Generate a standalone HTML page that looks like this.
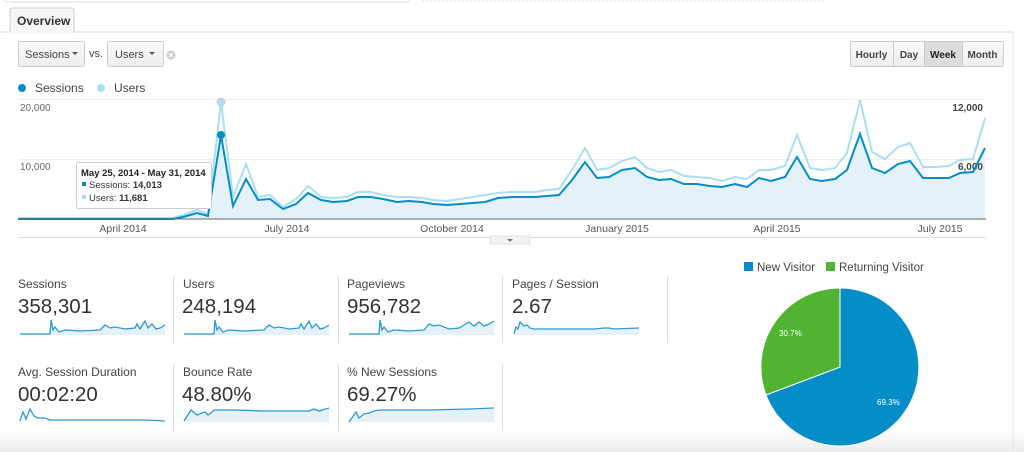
<!DOCTYPE html>
<html><head><meta charset="utf-8"><style>
body{margin:0;background:#fff;width:1024px;height:452px;overflow:hidden;font-family:"Liberation Sans",Arial,sans-serif;}
svg{display:block}
text{font-family:"Liberation Sans",Arial,sans-serif}
</style></head><body>
<svg width="1024" height="452" viewBox="0 0 1024 452">
<defs>
<linearGradient id="btm" x1="0" y1="0" x2="0" y2="1"><stop offset="0" stop-color="#fff"/><stop offset="1" stop-color="#ececec"/></linearGradient>
<linearGradient id="btn" x1="0" y1="0" x2="0" y2="1"><stop offset="0" stop-color="#fafafa"/><stop offset="1" stop-color="#eeeeee"/></linearGradient>
</defs>
<rect x="0" y="430" width="1024" height="22" fill="url(#btm)"/>
<rect x="4" y="-6" width="405" height="8" rx="3" fill="#fff" stroke="#ddd"/>
<line x1="422" y1="1" x2="825" y2="1" stroke="#ddd" stroke-dasharray="2,2"/>
<line x1="0" y1="32" x2="1013" y2="32" stroke="#d6d6d6"/>
<line x1="1013" y1="32" x2="1013" y2="452" stroke="#e4e4e4"/>
<path d="M10,32 V10 Q10,8 12,8 H72 Q74,8 74,10 V32" fill="#f5f5f5" stroke="#d0d0d0"/>
<rect x="11" y="30" width="62" height="4" fill="#f5f5f5"/>
<text x="17" y="25" font-size="12" font-weight="bold" fill="#333">Overview</text>
<rect x="18.5" y="41.5" width="66" height="25" rx="2" fill="url(#btn)" stroke="#ccc"/>
<text x="25" y="58" font-size="11" fill="#444">Sessions</text>
<path d="M72,52 h6 l-3,3z" fill="#555"/>
<text x="89" y="57" font-size="11" fill="#444">vs.</text>
<rect x="107.5" y="41.5" width="56" height="25" rx="2" fill="url(#btn)" stroke="#ccc"/>
<text x="115" y="58" font-size="11" fill="#444">Users</text>
<path d="M149,52 h6 l-3,3z" fill="#555"/>
<circle cx="171" cy="55" r="4.5" fill="#ccc"/>
<path d="M169,53 l4,4 M173,53 l-4,4" stroke="#fff" stroke-width="1.2"/>
<rect x="850.5" y="41.5" width="153" height="25" rx="2" fill="url(#btn)" stroke="#ccc"/>
<rect x="924" y="42" width="38" height="24" fill="#dcdcdc"/>
<line x1="893.5" y1="42" x2="893.5" y2="66" stroke="#ccc"/>
<line x1="924.5" y1="42" x2="924.5" y2="66" stroke="#ccc"/>
<line x1="962.5" y1="42" x2="962.5" y2="66" stroke="#ccc"/>
<text x="871.5" y="58" font-size="10" font-weight="bold" fill="#444" text-anchor="middle">Hourly</text>
<text x="909" y="58" font-size="10" font-weight="bold" fill="#444" text-anchor="middle">Day</text>
<text x="943" y="58" font-size="10" font-weight="bold" fill="#222" text-anchor="middle">Week</text>
<text x="982.5" y="58" font-size="10" font-weight="bold" fill="#444" text-anchor="middle">Month</text>
<circle cx="22" cy="88" r="4" fill="#058dc7"/>
<text x="35" y="92" font-size="12" fill="#444">Sessions</text>
<circle cx="101" cy="88" r="4" fill="#aadff3"/>
<text x="114" y="92" font-size="12" fill="#444">Users</text>
<line x1="18" y1="99.5" x2="986" y2="99.5" stroke="#eee"/>
<line x1="18" y1="159.5" x2="986" y2="159.5" stroke="#eee"/>
<text x="20" y="111" font-size="10" fill="#666">20,000</text>
<text x="20" y="170" font-size="10" fill="#666">10,000</text>
<text x="983" y="111" font-size="10" font-weight="bold" fill="#444" text-anchor="end">12,000</text>
<path d="M18,219 L173,219 183,217 197,213 208,216 221,135 233,206 246,179 258,200 270,199 283,209 296,204 308,193 321,200 333,202 347,201 358,197 371,197 383,199 397,202 409,201 422,202 433,204 447,205 460,204 473,203 485,202 498,198 512,197 535,197 547,196 559,195 572,180 585,162 597,178 609,177 622,170 635,168 647,177 659,180 671,179 684,184 697,184 710,186 722,187 735,184 747,187 759,178 771,181 785,177 797,157 810,179 822,181 835,179 847,170 860,134 872,168 885,173 898,164 910,161 923,178 935,178 949,178 960,173 973,172 985,148 L985,219 Z" fill="#e5f1f9"/>
<polyline fill="none" stroke="#aadff3" stroke-width="2" points="18,218 130,218 173,218 183,215 197,210 208,214 221,102 233,197 246,164 258,197 270,195 283,207 296,199 308,186 321,197 333,198 347,197 358,192 371,192 383,195 397,197 409,197 422,198 433,200 447,201 460,199 473,197 485,195 498,193 512,192 535,192 547,190 559,189 572,170 585,148 597,170 609,168 622,161 635,157 647,168 659,172 671,170 684,176 697,177 710,178 722,181 735,177 747,179 759,170 771,170 785,166 797,135 810,168 822,170 835,168 847,153 860,100 872,152 885,159 898,147 910,143 923,167 935,167 949,166 960,160 973,159 985,118"/>
<text x="983" y="170" font-size="10" font-weight="bold" fill="#444" text-anchor="end">6,000</text>
<polyline fill="none" stroke="#058dc7" stroke-width="2" points="18,219 173,219 183,217 197,213 208,216 221,135 233,206 246,179 258,200 270,199 283,209 296,204 308,193 321,200 333,202 347,201 358,197 371,197 383,199 397,202 409,201 422,202 433,204 447,205 460,204 473,203 485,202 498,198 512,197 535,197 547,196 559,195 572,180 585,162 597,178 609,177 622,170 635,168 647,177 659,180 671,179 684,184 697,184 710,186 722,187 735,184 747,187 759,178 771,181 785,177 797,157 810,179 822,181 835,179 847,170 860,134 872,168 885,173 898,164 910,161 923,178 935,178 949,178 960,173 973,172 985,148"/>
<line x1="18" y1="219" x2="986" y2="219" stroke="#666" stroke-width="1"/>
<circle cx="221" cy="102" r="4" fill="#aadff3" stroke="#ccc"/>
<circle cx="221" cy="135" r="4" fill="#058dc7"/>
<rect x="76.5" y="162.5" width="135" height="46" rx="2" fill="#fff" stroke="#ccc"/>
<text x="81" y="176" font-size="9.5" font-weight="bold" fill="#222">May 25, 2014 - May 31, 2014</text>
<rect x="82" y="182" width="4" height="4" fill="#058dc7"/>
<text x="89" y="188" font-size="9.5" fill="#333">Sessions: <tspan font-weight="bold">14,013</tspan></text>
<rect x="82" y="195" width="4" height="4" fill="#aadff3"/>
<text x="89" y="201" font-size="9.5" fill="#333">Users: <tspan font-weight="bold">11,681</tspan></text>
<g font-size="10.5" fill="#555" text-anchor="middle">
<text x="123" y="232">April 2014</text><text x="287" y="232">July 2014</text><text x="452" y="232">October 2014</text>
<text x="617" y="232">January 2015</text><text x="777" y="232">April 2015</text><text x="940" y="232">July 2015</text>
</g>
<line x1="18" y1="237.5" x2="986" y2="237.5" stroke="#ddd"/>
<rect x="490" y="236" width="40" height="8" fill="#f3f3f3" stroke="#ddd"/>
<path d="M507,239 h6 l-3,3z" fill="#777"/>
<g stroke="#ddd"><line x1="173.5" y1="276" x2="173.5" y2="343"/><line x1="338.5" y1="276" x2="338.5" y2="343"/><line x1="502.5" y1="276" x2="502.5" y2="343"/><line x1="667.5" y1="276" x2="667.5" y2="343"/>
<line x1="173.5" y1="364" x2="173.5" y2="431"/><line x1="338.5" y1="364" x2="338.5" y2="431"/><line x1="502.5" y1="364" x2="502.5" y2="431"/></g>
<g font-size="12" fill="#444">
<text x="18" y="288">Sessions</text><text x="183" y="288">Users</text><text x="347" y="288">Pageviews</text><text x="512" y="288">Pages / Session</text>
<text x="18" y="376">Avg. Session Duration</text><text x="183" y="376">Bounce Rate</text><text x="347" y="376">% New Sessions</text>
</g>
<g font-size="20.5" fill="#333">
<text x="18" y="313">358,301</text><text x="182" y="313">248,194</text><text x="347" y="313">956,782</text><text x="512" y="313">2.67</text>
<text x="18" y="401">00:02:20</text><text x="182" y="401">48.80%</text><text x="347" y="401">69.27%</text>
</g>
<g id="sp">
<path d="M20,334 L50,334 51,320 53,330 55,327 59,332 65,330 80,331 100,330 105,325 110,328 115,327 125,329 135,328 137,324 140,329 145,321 148,328 152,324 156,329 160,328 165,325 L165,335 20,335Z" fill="#e5f1f9"/>
<polyline fill="none" stroke="#2a9ad3" stroke-width="1.3" points="20,334 50,334 51,320 53,330 55,327 59,332 65,330 80,331 100,330 105,325 110,328 115,327 125,329 135,328 137,324 140,329 145,321 148,328 152,324 156,329 160,328 165,325"/>
</g>
<use href="#sp" x="164"/>
<g transform="translate(329,0)">
<path d="M20,334 L50,334 51,320 53,330 55,327 59,332 65,330 80,331 95,330 100,324 105,326 110,325 120,329 130,328 140,322 145,326 150,322 155,326 160,324 165,321 L165,335 20,335Z" fill="#e5f1f9"/>
<polyline fill="none" stroke="#2a9ad3" stroke-width="1.3" points="20,334 50,334 51,320 53,330 55,327 59,332 65,330 80,331 95,330 100,324 105,326 110,325 120,329 130,328 140,322 145,326 150,322 155,326 160,324 165,321"/>
</g>
<g transform="translate(494,0)">
<path d="M20,334 L22,327 24,329 26,322 30,326 33,325 36,328 40,329 60,329 100,329 110,328 115,328 120,329 145,328 L145,335 20,335Z" fill="#e5f1f9"/>
<polyline fill="none" stroke="#2a9ad3" stroke-width="1.3" points="20,334 22,327 24,329 26,322 30,326 33,325 36,328 40,329 60,329 100,329 110,328 115,328 120,329 145,328"/>
</g>
<g transform="translate(0,88)">
<polyline fill="none" stroke="#2a9ad3" stroke-width="1.3" points="20,333 23,324 26,331 30,321 34,328 38,330 45,330 50,332 60,332 100,332 145,332 165,333"/>
<g transform="translate(164,0)">
<path d="M20,333 L27,322 33,327 38,325 41,324 44,327 48,324 50,322 70,322 100,323 145,323 150,321 155,323 165,320 L165,334 20,334Z" fill="#e5f1f9"/>
<polyline fill="none" stroke="#2a9ad3" stroke-width="1.3" points="20,333 27,322 33,327 38,325 41,324 44,327 48,324 50,322 70,322 100,323 145,323 150,321 155,323 165,320"/>
</g>
<g transform="translate(329,0)">
<path d="M20,334 L27,324 30,330 35,326 40,325 45,323 50,322 60,322 100,322 140,321 165,320 L165,334 20,334Z" fill="#e5f1f9"/>
<polyline fill="none" stroke="#2a9ad3" stroke-width="1.3" points="20,334 27,324 30,330 35,326 40,325 45,323 50,322 60,322 100,322 140,321 165,320"/>
</g>
</g>
<rect x="744" y="262" width="9" height="9" fill="#058dc7"/>
<text x="757" y="271" font-size="11.5" fill="#444">New Visitor</text>
<rect x="826" y="262" width="9" height="9" fill="#50b432"/>
<text x="839" y="271" font-size="11.5" fill="#444">Returning Visitor</text>
<path d="M840,367 L840,288 A79,79 0 1,1 766,395 Z" fill="#058dc7" stroke="#fff" stroke-width="1"/>
<path d="M840,367 L766,395 A79,79 0 0,1 840,288 Z" fill="#50b432" stroke="#fff" stroke-width="1"/>
<text x="779" y="336" font-size="8" fill="#fff">30.7%</text>
<text x="877" y="405" font-size="8" fill="#fff">69.3%</text>
</svg>
</body></html>
